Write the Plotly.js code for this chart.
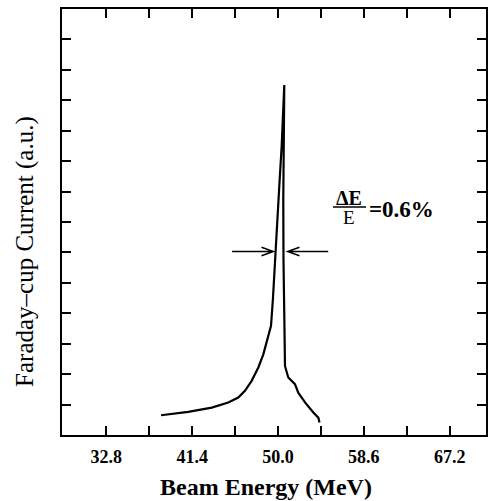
<!DOCTYPE html>
<html>
<head>
<meta charset="utf-8">
<script src="https://cdn.plot.ly/plotly-3.0.1.min.js"></script>
<style>html,body{margin:0;padding:0;background:#fff;}</style>
</head>
<body>
<div id="chart" style="width:495px;height:501px;"></div>
<script>
// Beam energy (MeV) and Faraday-cup current (a.u.)
const energy = [38.28, 41.01, 43.36, 45.02, 46.02, 46.69, 47.36, 48.03, 48.53, 48.97, 49.30, 49.49, 49.70, 50.03, 50.13, 50.37, 50.63,
                50.53, 50.55, 50.65, 50.70, 51.03, 51.70, 52.03, 52.71, 53.54, 54.04, 54.16];
const current = [0.65, 0.76, 0.90, 1.07, 1.23, 1.45, 1.78, 2.22, 2.65, 3.15, 3.59, 4.46, 5.78, 7.70, 8.18, 9.50, 11.50,
                 7.75, 5.78, 3.48, 2.27, 1.89, 1.67, 1.39, 1.07, 0.74, 0.57, 0.41];
const xTickVals = [32.8, 37.1, 41.4, 45.7, 50.0, 54.3, 58.6, 62.9, 67.2];
const xTickText = ['32.8', '', '41.4', '', '50.0', '', '58.6', '', '67.2'];
const yTickVals = [1,2,3,4,5,6,7,8,9,10,11,12,13];

const serif = 'Liberation Serif, Times New Roman, serif';

const trace = {
  x: energy, y: current, type: 'scatter', mode: 'lines',
  line: {color: '#000', width: 2.2}, hoverinfo: 'skip', showlegend: false
};

// arrows marking the FWHM
const ay = 6.03;
const shapes = [
  {type: 'path', xref: 'x', yref: 'y', line: {color: '#000', width: 1.5},
   path: `M45.4,${ay} L49.53,${ay} M48.35,${ay+0.14} L49.53,${ay} L48.35,${ay-0.14}`},
  {type: 'path', xref: 'x', yref: 'y', line: {color: '#000', width: 1.5},
   path: `M55.03,${ay} L50.97,${ay} M52.15,${ay+0.14} L50.97,${ay} L52.15,${ay-0.14}`},
  {type: 'line', xref: 'x', yref: 'y', x0: 55.51, x1: 58.82, y0: 7.49, y1: 7.49, line: {color: '#000', width: 1.5}}
];

const annotations = [
  {xref: 'x', yref: 'y', x: 57.15, y: 7.8, text: '<b>ΔE</b>', showarrow: false, xanchor: 'center', yanchor: 'middle',
   font: {family: serif, size: 20, color: '#000'}},
  {xref: 'x', yref: 'y', x: 57.15, y: 7.14, text: 'E', showarrow: false, xanchor: 'center', yanchor: 'middle',
   font: {family: serif, size: 19, color: '#000'}},
  {xref: 'x', yref: 'y', x: 58.95, y: 7.42, text: '<b>=0.6%</b>', showarrow: false, xanchor: 'left', yanchor: 'middle',
   font: {family: serif, size: 23, color: '#000'}},
  {xref: 'paper', yref: 'paper', x: -0.087, y: 0.43, text: 'Faraday–cup Current (a.u.)', textangle: -90, showarrow: false,
   xanchor: 'center', yanchor: 'middle', font: {family: serif, size: 25, color: '#000'}},
  {xref: 'paper', yref: 'paper', x: 0.48, y: -0.123, text: '<b>Beam Energy (MeV)</b>', showarrow: false,
   xanchor: 'center', yanchor: 'middle', font: {family: serif, size: 24, color: '#000'}}
];

const layout = {
  width: 495, height: 501,
  margin: {l: 62, r: 9, t: 9, b: 66},
  paper_bgcolor: '#fff', plot_bgcolor: '#fff',
  xaxis: {
    range: [28.36, 70.84], tickvals: xTickVals, ticktext: xTickText,
    ticks: 'inside', ticklen: 9, tickwidth: 2, tickcolor: '#000',
    showline: true, linewidth: 2, linecolor: '#000', mirror: 'ticks',
    showgrid: false, zeroline: false, ticklabelstandoff: 4,
    tickfont: {family: serif, size: 18, color: '#000', weight: 'bold'}
  },
  yaxis: {
    range: [0, 14], tickvals: yTickVals, showticklabels: false,
    ticks: 'inside', ticklen: 9, tickwidth: 2, tickcolor: '#000',
    showline: true, linewidth: 2, linecolor: '#000', mirror: 'ticks',
    showgrid: false, zeroline: false
  },
  shapes: shapes,
  annotations: annotations
};

Plotly.newPlot('chart', [trace], layout, {displayModeBar: false, staticPlot: true});
</script>
</body>
</html>
